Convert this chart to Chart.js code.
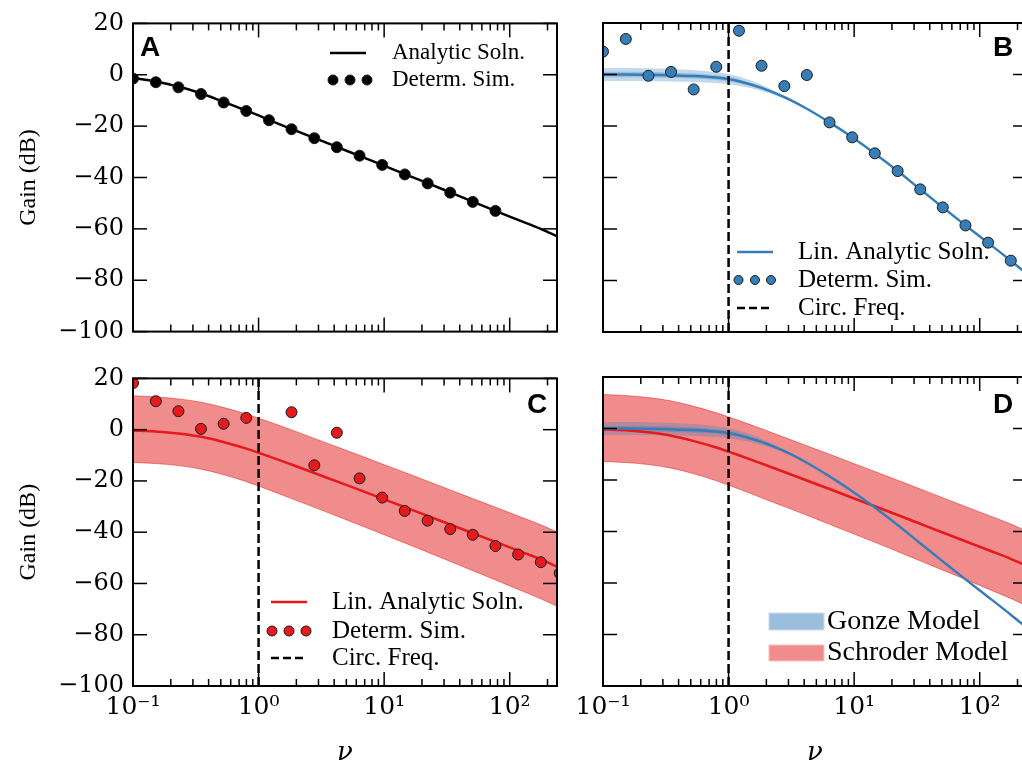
<!DOCTYPE html>
<html>
<head>
<meta charset="utf-8">
<script src="https://cdn.jsdelivr.net/npm/chart.js@4.4.1/dist/chart.umd.min.js"></script>
<style>
html, body { margin: 0; padding: 0; background: #fff; overflow: hidden; }
#fig { position: relative; width: 1022px; height: 766px; overflow: hidden; }
canvas { position: absolute; }
</style>
</head>
<body>
<div id="fig">
  <canvas id="pA" width="580" height="355" style="left:0px;top:0px"></canvas>
  <canvas id="pB" width="510" height="355" style="left:540px;top:0px"></canvas>
  <canvas id="pC" width="580" height="411" style="left:0px;top:355px"></canvas>
  <canvas id="pD" width="510" height="411" style="left:540px;top:355px"></canvas>
</div>
<script>
var nuGrid = [0.1, 0.15, 0.23, 0.35, 0.53, 0.8, 1.0, 1.21, 1.83, 2.78, 4.2, 6.37, 9.65, 14.6, 22.2, 33.6, 50.8, 77, 116.7, 176.8, 240];
// frequencies of the simulation points
var nuSim = [0.1, 0.152, 0.23, 0.348, 0.527, 0.798, 1.21, 1.83, 2.78, 4.2, 6.37, 9.65, 14.6, 22.2, 33.6, 50.8, 77, 116.7, 176.8, 250];

// panel A
var lineA = [-1.2, -2.6, -4.6, -7.3, -10.6, -14.0, -15.8, -17.6, -21.1, -24.6, -28.1, -31.6, -35.1, -38.7, -42.2, -45.8, -49.4, -53.0, -56.5, -60.0, -63.0];
var simA = [-1.5, -2.9, -4.9, -7.5, -10.8, -14.1, -17.7, -21.2, -24.7, -28.2, -31.5, -35.1, -38.8, -42.3, -45.9, -49.5, -53.0];

// Gonze model (blue)
var blueLine = [0.0, 0.0, -0.1, -0.3, -0.6, -1.2, -1.8, -2.6, -5.2, -8.8, -13.3, -18.6, -24.4, -30.7, -37.5, -44.6, -51.6, -58.6, -65.4, -72.3, -77.6];
var blueOuter = [2.5, 2.5, 2.5, 2.4, 2.3, 2.1, 2.0, 1.8, 1.2, 0.6, 0.2, 0, 0, 0, 0, 0, 0, 0, 0, 0, 0];
var blueInner = [1.1, 1.1, 1.1, 1.1, 1.0, 0.9, 0.9, 0.8, 0.5, 0.3, 0.1, 0, 0, 0, 0, 0, 0, 0, 0, 0, 0];
var simB = [8.9, 13.8, -0.5, 1.0, -5.8, 3.0, 17.0, 3.4, -4.5, -0.2, -18.6, -24.4, -30.6, -37.5, -44.6, -51.6, -58.6, -65.3, -72.3];

// Schroder model (red)
var redLine = [-0.3, -0.7, -1.5, -2.8, -4.9, -7.4, -9.0, -10.4, -13.6, -16.9, -20.2, -23.5, -26.9, -30.2, -33.6, -37.0, -40.4, -43.8, -47.2, -50.6, -53.5];
var redUpper = [13.2, 12.8, 12.0, 10.7, 8.6, 6.1, 4.5, 3.1, -0.1, -3.4, -6.7, -10.0, -13.4, -16.7, -20.1, -23.5, -26.9, -30.3, -33.7, -37.1, -40.0];
var redLower = [-12.8, -13.2, -14.0, -15.4, -17.6, -20.3, -22.0, -23.5, -26.9, -30.3, -33.7, -37.2, -40.7, -44.2, -47.8, -51.4, -55.0, -58.6, -62.3, -66.0, -69.0];
var simC = [18.2, 11.1, 7.2, 0.3, 2.3, 4.6, null, 6.8, -13.9, -1.2, -19.0, -26.5, -31.7, -35.5, -38.8, -41.0, -45.4, -48.7, -51.7, -56.0];

// ticks
var xTicks = [0.1, 1, 10, 100];
var xTickLabels = ['10\u207B\u00B9', '10\u2070', '10\u00B9', '10\u00B2'];
var xMinor = [0.2, 0.3, 0.4, 0.5, 0.6, 0.7, 0.8, 0.9, 2, 3, 4, 5, 6, 7, 8, 9, 20, 30, 40, 50, 60, 70, 80, 90, 200];
var yTicks = [-100, -80, -60, -40, -20, 0, 20];

var BLUE = '#377eb8', RED = '#e41a1c';
var TICKFONT = 'DejaVu Serif';
var TEXTFONT = 'Liberation Serif';

function pts(xs, ys) {
  return ys.map(function (y, i) { return {x: xs[i], y: y}; });
}
function shift(ys, d, s) {
  return ys.map(function (y, i) { return y + s * d[i]; });
}

function curve(data, color, order) {
  return {data: data, borderColor: color, borderWidth: 2.5, pointRadius: 0, fill: false,
          cubicInterpolationMode: 'monotone', order: order, clip: 0};
}
function dots(data, color, order) {
  return {data: data, showLine: false, pointRadius: 5.5, pointBackgroundColor: color,
          pointBorderColor: '#1a1a1a', pointBorderWidth: 1, order: order, clip: 0};
}
function band(up, lo, color, edge, order) {
  return [
    {data: up, borderColor: edge, borderWidth: edge ? 1 : 0, pointRadius: 0, fill: '+1',
     backgroundColor: color, cubicInterpolationMode: 'monotone', order: order, clip: 0},
    {data: lo, borderColor: edge, borderWidth: edge ? 1 : 0, pointRadius: 0, fill: false,
     cubicInterpolationMode: 'monotone', order: order, clip: 0}
  ];
}
function circFreq(order) {
  return {data: [{x: 1, y: -100}, {x: 1, y: 20}], borderColor: '#000', borderWidth: 2.5,
          borderDash: [9, 4], pointRadius: 0, fill: false, order: order, clip: 0};
}

// frame, inward ticks, panel letter and legend
var deco = {
  id: 'deco',
  afterDraw: function (chart, args, o) {
    var ctx = chart.ctx, a = chart.chartArea, xs = chart.scales.x, ys = chart.scales.y;
    ctx.save();
    ctx.strokeStyle = '#000';
    ctx.lineWidth = 1.5;
    function seg(x0, y0, x1, y1) { ctx.beginPath(); ctx.moveTo(x0, y0); ctx.lineTo(x1, y1); ctx.stroke(); }
    xTicks.concat(xMinor).forEach(function (v) {
      var len = xTicks.indexOf(v) >= 0 ? 14 : 7;
      var px = xs.getPixelForValue(v);
      seg(px, a.bottom, px, a.bottom - len);
      seg(px, a.top, px, a.top + len);
    });
    yTicks.forEach(function (v) {
      var py = ys.getPixelForValue(v);
      seg(a.left, py, a.left + 14, py);
      seg(a.right, py, a.right - 14, py);
    });
    ctx.lineWidth = 2;
    ctx.strokeRect(a.left, a.top, a.right - a.left, a.bottom - a.top);

    ctx.translate(-o.ox, -o.oy);
    ctx.fillStyle = '#000';
    ctx.font = 'bold 28px "Liberation Sans"';
    ctx.textBaseline = 'alphabetic';
    ctx.textAlign = 'left';
    ctx.fillText(o.letter, o.lx, o.ly);

    ctx.textBaseline = 'middle';
    o.items.forEach(function (it) {
      ctx.setLineDash([]);
      if (it.kind === 'line' || it.kind === 'dash') {
        ctx.strokeStyle = it.color;
        ctx.lineWidth = 2.5;
        if (it.kind === 'dash') ctx.setLineDash([8, 4]);
        seg(it.x0, it.y, it.x1, it.y);
        ctx.setLineDash([]);
      } else if (it.kind === 'dots') {
        it.xs.forEach(function (cx) {
          ctx.beginPath();
          ctx.arc(cx, it.y, it.r, 0, Math.PI * 2);
          ctx.fillStyle = it.color;
          ctx.fill();
          ctx.lineWidth = 1;
          ctx.strokeStyle = '#1a1a1a';
          ctx.stroke();
        });
      } else if (it.kind === 'patch') {
        ctx.fillStyle = it.color;
        ctx.fillRect(it.x0, it.y0, it.x1 - it.x0, it.y1 - it.y0);
        ctx.strokeStyle = it.edge;
        ctx.lineWidth = 1;
        ctx.strokeRect(it.x0, it.y0, it.x1 - it.x0, it.y1 - it.y0);
      }
      ctx.fillStyle = '#000';
      ctx.font = it.size + 'px "' + TEXTFONT + '"';
      ctx.fillText(it.text, it.tx, it.ty !== undefined ? it.ty : it.y);
    });
    ctx.restore();
  }
};

function scales(c) {
  return {
    x: {
      type: 'logarithmic', min: 0.1, max: 238,
      grid: {display: false, drawTicks: false}, border: {display: false},
      afterBuildTicks: function (s) { s.ticks = xTicks.map(function (v) { return {value: v}; }); },
      afterFit: function (s) { s.height = c.xh; },
      ticks: {display: c.xLabels, autoSkip: false, maxRotation: 0, padding: 6, color: '#000',
              font: {family: TICKFONT, size: 25},
              callback: function (v) { var i = xTicks.indexOf(v); return i < 0 ? '' : xTickLabels[i]; }},
      title: {display: c.xLabels, text: '\u03BD', color: '#000',
              font: {family: TICKFONT, style: 'italic', size: 26}, padding: {top: 0, bottom: -3}}
    },
    y: {
      min: -100, max: 20,
      grid: {display: false, drawTicks: false}, border: {display: false},
      afterFit: function (s) { s.width = c.yw; },
      ticks: {display: c.yLabels, stepSize: 20, padding: 9, color: '#000',
              font: {family: TICKFONT, size: 24},
              callback: function (v) { return v < 0 ? '\u2212' + Math.abs(v) : '' + v; }},
      title: {display: c.yLabels, text: 'Gain (dB)', color: '#000',
              font: {family: TEXTFONT, size: 24}, padding: {top: 14, bottom: 0}}
    }
  };
}

function panel(id, datasets, c, decoOpts) {
  return new Chart(document.getElementById(id), {
    type: 'line',
    data: {datasets: datasets},
    plugins: [deco],
    options: {
      responsive: false, animation: false, events: [],
      layout: {padding: c.pad},
      scales: scales(c),
      plugins: {legend: {display: false}, tooltip: {enabled: false}, deco: decoOpts}
    }
  });
}

// A
panel('pA', [
  dots(pts(nuSim, simA), '#000', 0),
  curve(pts(nuGrid, lineA), '#000', 2)
], {xh: 23, yw: 133, xLabels: false, yLabels: true, pad: {top: 23, right: 23, left: 0, bottom: 0}},
{ox: 0, oy: 0, letter: 'A', lx: 140, ly: 56, items: [
  {kind: 'line', color: '#000', x0: 330, x1: 366, y: 53, text: 'Analytic Soln.', tx: 392, size: 23},
  {kind: 'dots', color: '#000', xs: [333, 350, 367], r: 5, y: 80, text: 'Determ. Sim.', tx: 392, size: 23}
]});

// B
var blueB = band(pts(nuGrid, shift(blueLine, blueOuter, 1)), pts(nuGrid, shift(blueLine, blueOuter, -1)), 'rgba(55,126,184,0.3)', null, 6)
  .concat(band(pts(nuGrid, shift(blueLine, blueInner, 1)), pts(nuGrid, shift(blueLine, blueInner, -1)), 'rgba(55,126,184,0.3)', null, 5));
panel('pB', [
  dots(pts(nuSim, simB), BLUE, 0),
  circFreq(1),
  curve(pts(nuGrid, blueLine), BLUE, 2)
].concat(blueB),
{xh: 23, yw: 63, xLabels: false, yLabels: false, pad: {top: 23, right: 23, left: 0, bottom: 0}},
{ox: 540, oy: 0, letter: 'B', lx: 993, ly: 56, items: [
  {kind: 'line', color: BLUE, x0: 737, x1: 773, y: 252, text: 'Lin. Analytic Soln.', tx: 798, size: 25},
  {kind: 'dots', color: BLUE, xs: [738.5, 755, 771], r: 4.5, y: 280, text: 'Determ. Sim.', tx: 798, size: 25},
  {kind: 'dash', color: '#000', x0: 737, x1: 773, y: 308, text: 'Circ. Freq.', tx: 798, size: 25}
]});

// C
panel('pC', [
  dots(pts(nuSim, simC), RED, 0),
  circFreq(1),
  curve(pts(nuGrid, redLine), RED, 2)
].concat(band(pts(nuGrid, redUpper), pts(nuGrid, redLower), 'rgba(228,26,28,0.5)', 'rgba(228,26,28,0.5)', 6)),
{xh: 80, yw: 133, xLabels: true, yLabels: true, pad: {top: 22, right: 23, left: 0, bottom: 0}},
{ox: 0, oy: 355, letter: 'C', lx: 527, ly: 413, items: [
  {kind: 'line', color: RED, x0: 271, x1: 307, y: 602, text: 'Lin. Analytic Soln.', tx: 332, size: 25},
  {kind: 'dots', color: RED, xs: [272, 289, 306], r: 5, y: 631, text: 'Determ. Sim.', tx: 332, size: 25},
  {kind: 'dash', color: '#000', x0: 271, x1: 307, y: 658, text: 'Circ. Freq.', tx: 332, size: 25}
]});

// D
var blueD = band(pts(nuGrid, shift(blueLine, blueOuter, 1)), pts(nuGrid, shift(blueLine, blueOuter, -1)), 'rgba(55,126,184,0.3)', null, 5)
  .concat(band(pts(nuGrid, shift(blueLine, blueInner, 1)), pts(nuGrid, shift(blueLine, blueInner, -1)), 'rgba(55,126,184,0.3)', null, 4));
panel('pD', [
  circFreq(1),
  curve(pts(nuGrid, blueLine), BLUE, 2),
  curve(pts(nuGrid, redLine), RED, 3)
].concat(blueD).concat(band(pts(nuGrid, redUpper), pts(nuGrid, redLower), 'rgba(228,26,28,0.5)', 'rgba(228,26,28,0.5)', 7)),
{xh: 80, yw: 63, xLabels: true, yLabels: false, pad: {top: 22, right: 23, left: 0, bottom: 0}},
{ox: 540, oy: 355, letter: 'D', lx: 993, ly: 413, items: [
  {kind: 'patch', color: 'rgba(155,190,220,1)', edge: '#c9dcee', x0: 769, x1: 824, y0: 613, y1: 630, text: 'Gonze Model', tx: 827, ty: 622, size: 28},
  {kind: 'patch', color: 'rgba(241,140,141,1)', edge: '#f6c3c3', x0: 769, x1: 824, y0: 645, y1: 661, text: 'Schroder Model', tx: 827, ty: 653, size: 28}
]});
</script>
</body>
</html>
